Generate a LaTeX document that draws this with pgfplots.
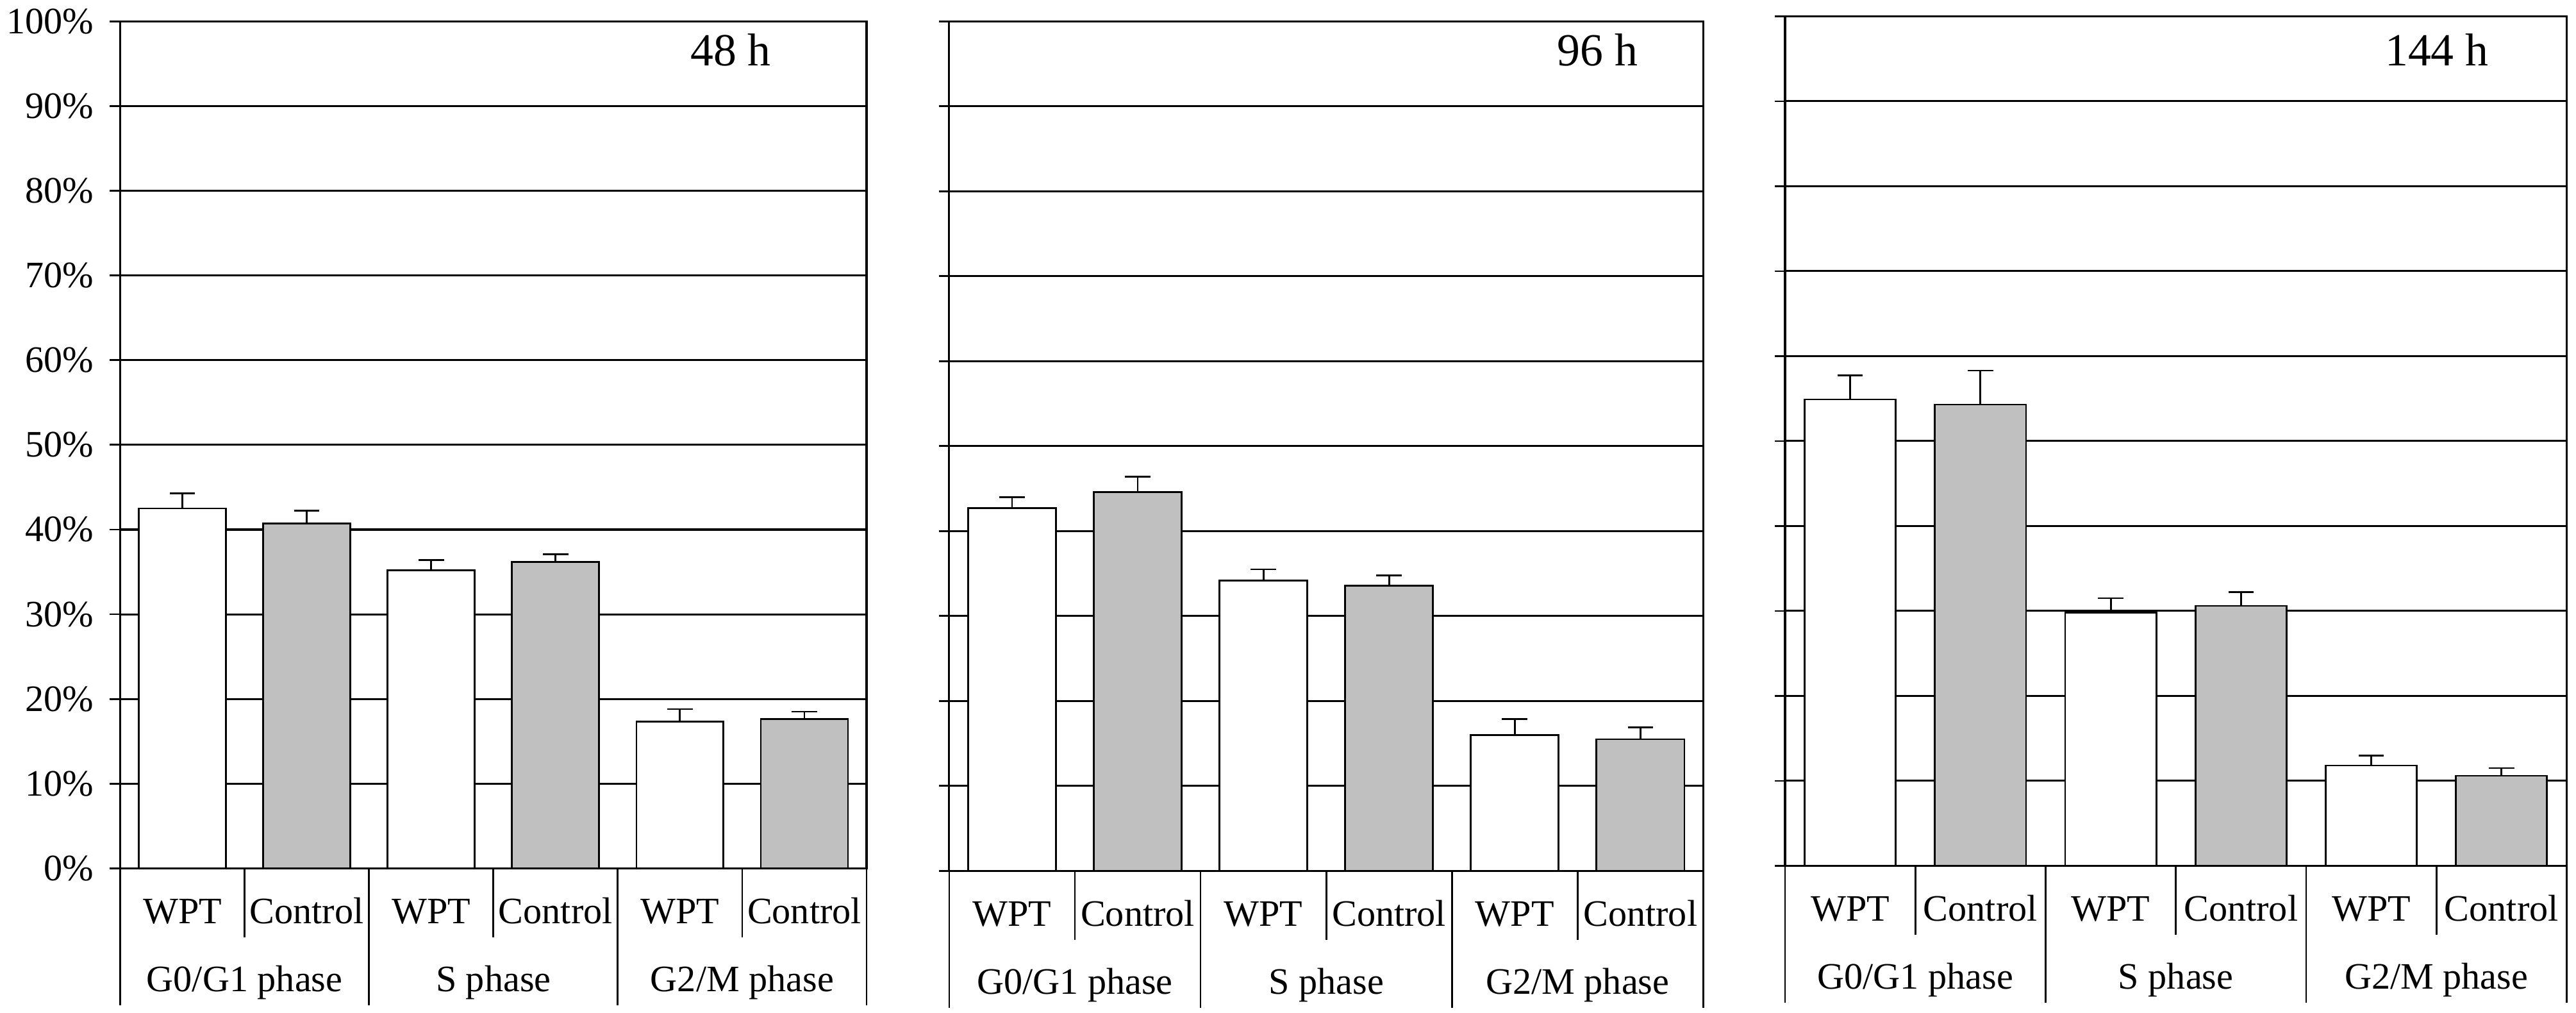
\documentclass[border=0pt]{standalone}
\usepackage{pgfplots}
\pgfplotsset{compat=1.18}
\usepackage{pgfplotstable}
\usepackage{fontspec}
\setmainfont{Liberation Serif}
\definecolor{ctlgray}{HTML}{C0C0C0}

% x: WPT at 0,2,4 ; Control at 1,3,5
\pgfplotstableread{
xw  w     we    xc  c     ce
0   42.5  1.8   1   40.7  1.5
2   35.2  1.2   3   36.2  0.9
4   17.3  1.5   5   17.6  0.9
}\tabA
\pgfplotstableread{
xw  w     we    xc  c     ce
0   42.7  1.3   1   44.6  1.8
2   34.2  1.3   3   33.6  1.2
4   16.0  1.9   5   15.5  1.4
}\tabB
\pgfplotstableread{
xw  w     we    xc  c     ce
0   54.9  2.8   1   54.3  4.0
2   29.8  1.7   3   30.6  1.6
4   11.8  1.2   5   10.6  0.9
}\tabC

\tikzset{
  catlab/.style={anchor=base, inner sep=0pt, font=\fontsize{10.3}{12}\selectfont},
  sepline/.style={black, line width=0.5pt},
  paneltitle/.style={anchor=base, inner sep=0pt, font=\fontsize{12.7}{15}\selectfont},
}

\pgfplotsset{
  panel/.style={
    scale only axis,
    anchor=south west,
    xmin=-0.5, xmax=5.5,
    ymin=0, ymax=100,
    ytick={0,10,...,100},
    xtick=\empty,
    ytick pos=left,
    tick align=outside,
    major tick length=2.9pt,
    tick style={black, line width=0.5pt},
    ymajorgrids,
    grid style={black, line width=0.55pt},
    axis line style={black, line width=0.55pt},
    clip=false,
    /pgf/number format/assume math mode=true,
    yticklabel style={font=\fontsize{10.3}{12}\selectfont, inner sep=0pt, anchor=east, xshift=-4.2pt},
  },
  errstyle/.style={
    error bars/.cd, y dir=plus, y explicit,
    error bar style={black, line width=0.5pt},
    error mark=|,
    error mark options={black, line width=0.5pt, mark size=3.5pt}},
  wbar/.style={ybar, bar width=0.7, bar shift=0pt, draw=black, line width=0.5pt, fill=white, errstyle},
  cbar/.style={ybar, bar width=0.7, bar shift=0pt, draw=black, line width=0.5pt, fill=ctlgray, errstyle},
}

\newcommand{\catlabels}{%
  \draw[sepline] (axis cs:-0.5,0) -- ++(0pt,-37.8pt);
  \draw[sepline] (axis cs:1.5,0) -- ++(0pt,-37.8pt);
  \draw[sepline] (axis cs:3.5,0) -- ++(0pt,-37.8pt);
  \draw[sepline] (axis cs:5.5,0) -- ++(0pt,-37.8pt);
  \draw[sepline] (axis cs:0.5,0) -- ++(0pt,-19pt);
  \draw[sepline] (axis cs:2.5,0) -- ++(0pt,-19pt);
  \draw[sepline] (axis cs:4.5,0) -- ++(0pt,-19pt);
  \node[catlab] at (axis cs:0,0) [yshift=-15.3pt] {WPT};
  \node[catlab] at (axis cs:1,0) [yshift=-15.3pt] {Control};
  \node[catlab] at (axis cs:2,0) [yshift=-15.3pt] {WPT};
  \node[catlab] at (axis cs:3,0) [yshift=-15.3pt] {Control};
  \node[catlab] at (axis cs:4,0) [yshift=-15.3pt] {WPT};
  \node[catlab] at (axis cs:5,0) [yshift=-15.3pt] {Control};
  \node[catlab] at (axis cs:0.5,0) [yshift=-34pt] {G0/G1 phase};
  \node[catlab] at (axis cs:2.5,0) [yshift=-34pt] {S phase};
  \node[catlab] at (axis cs:4.5,0) [yshift=-34pt] {G2/M phase};
}

\begin{document}
\begin{tikzpicture}
\path (0,0) rectangle (711.3pt,279.5pt);

\begin{axis}[panel, at={(33.19pt,39.8pt)}, width=206.1pt, height=233.8pt,
  yticklabels={0\%,10\%,20\%,30\%,40\%,50\%,60\%,70\%,80\%,90\%,100\%}]
  \addplot[wbar] table[x=xw, y=w, y error=we] {\tabA};
  \addplot[cbar] table[x=xc, y=c, y error=ce] {\tabA};
  \catlabels
  \node[paneltitle] at (rel axis cs:0.818,1) [yshift=-12.3pt] {48 h};
\end{axis}

\begin{axis}[panel, at={(262.1pt,39.1pt)}, width=208.2pt, height=234.5pt,
  yticklabels={}]
  \addplot[wbar] table[x=xw, y=w, y error=we] {\tabB};
  \addplot[cbar] table[x=xc, y=c, y error=ce] {\tabB};
  \catlabels
  \node[paneltitle] at (rel axis cs:0.86,1) [yshift=-12.3pt] {96 h};
\end{axis}

\begin{axis}[panel, at={(492.9pt,40.5pt)}, width=215.8pt, height=234.5pt,
  yticklabels={}]
  \addplot[wbar] table[x=xw, y=w, y error=we] {\tabC};
  \addplot[cbar] table[x=xc, y=c, y error=ce] {\tabC};
  \catlabels
  \node[paneltitle] at (rel axis cs:0.834,1) [yshift=-13.7pt] {144 h};
\end{axis}
\end{tikzpicture}
\end{document}
